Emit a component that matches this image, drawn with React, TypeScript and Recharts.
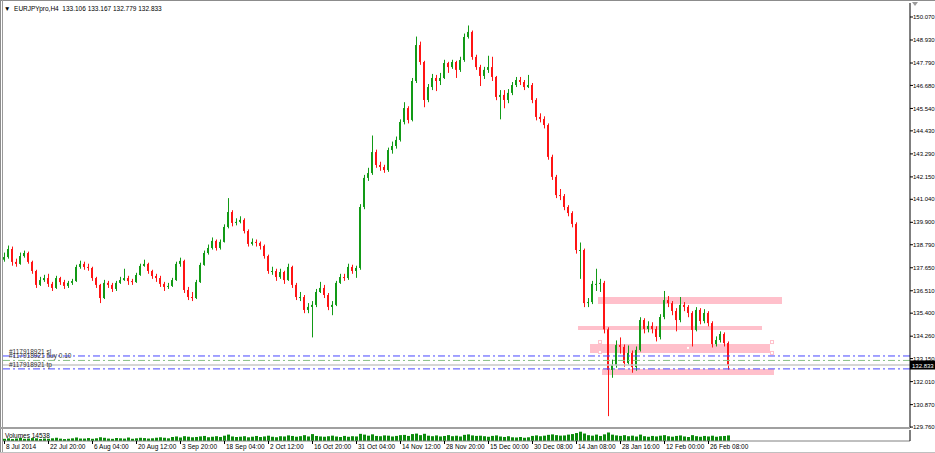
import React from 'react';
import {
  BarChart,
  Bar,
  ComposedChart,
  XAxis,
  YAxis,
  ReferenceLine,
  ReferenceArea,
  ReferenceDot,
} from 'recharts';

const FONT = '"Liberation Sans", Arial, sans-serif';
const BULL = '#129a16';
const BEAR = '#ff1414';
const ZONE_FILL = '#ffc0cb';

// EURJPYpro H4 (one candle per ~6 original bars)
const FIRST_OPEN = 138.05;
const CLOSE = [
  138.18, 138.58, 137.94, 137.84, 138.23, 138.38, 137.94, 137.49, 136.8, 137.04,
  137.14, 136.85, 136.65, 137.14, 136.94, 136.75, 136.9, 136.99, 137.69, 137.84,
  137.69, 137.64, 137.14, 136.8, 136.15, 136.9, 136.8, 136.6, 136.9, 137.04,
  137.14, 136.99, 136.94, 137.29, 137.74, 137.84, 137.49, 137.24, 137.14, 136.85,
  136.7, 136.75, 137.04, 137.84, 137.99, 136.55, 136.2, 136.15, 136.94, 137.79,
  138.38, 138.63, 138.98, 138.63, 138.93, 139.67, 140.41, 139.87, 139.92, 140.02,
  139.47, 138.83, 138.93, 138.88, 138.73, 138.23, 137.49, 137.49, 137.19, 137.44,
  137.04, 137.69, 136.8, 136.2, 136.2, 135.56, 135.71, 135.81, 136.45, 136.65,
  136.3, 135.71, 135.81, 136.9, 137.19, 137.14, 137.69, 137.49, 137.64, 140.66,
  142.1, 142.34, 143.38, 142.74, 142.64, 142.49, 143.48, 143.68, 143.98, 144.87,
  145.56, 144.97, 146.9, 148.68, 147.84, 145.96, 146.6, 147.05, 146.9, 147.05,
  147.79, 147.59, 147.84, 147.45, 147.94, 149.08, 149.33, 148.09, 147.59, 147.15,
  147.45, 147.59, 147.1, 146.11, 146.21, 145.96, 146.31, 146.7, 146.95, 146.85,
  146.6, 146.7, 145.96, 145.12, 145.02, 144.72, 143.14, 142.15, 141.25, 141.2,
  140.66, 140.36, 139.82, 138.53, 138.53, 135.9, 135.95, 136.85, 136.85, 136.9,
  134.6, 132.59, 132.83, 133.82, 133.73, 132.93, 133.43, 132.73, 133.58, 135.06,
  134.62, 134.77, 134.62, 134.22, 135.21, 136.05, 135.9, 135.51, 135.06, 135.81,
  135.71, 135.41, 134.57, 135.56, 135.01, 135.41, 134.91, 133.87, 134.07, 134.37,
  133.92, 132.833,
];
const HIGH = [
  138.4, 138.75, 138.7, 138.1, 138.4, 138.5, 138.45, 138.0, 137.55, 137.2,
  137.3, 137.35, 136.95, 137.25, 137.2, 137.05, 137.0, 137.1, 137.8, 138.0,
  137.95, 137.85, 137.7, 137.2, 136.85, 137.05, 137.0, 136.9, 137.0, 137.2,
  137.6, 137.25, 137.1, 137.4, 137.85, 138.05, 137.9, 137.55, 137.35, 137.25,
  136.95, 136.9, 137.15, 137.95, 138.15, 138.05, 136.7, 136.45, 137.05, 137.9,
  138.5, 138.8, 139.15, 139.05, 139.05, 139.8, 141.1, 140.5, 140.1, 140.2,
  140.1, 139.55, 139.1, 139.05, 138.95, 138.8, 138.3, 137.7, 137.6, 137.6,
  137.5, 137.85, 137.75, 136.9, 136.45, 136.3, 135.9, 136.0, 136.6, 136.95,
  136.8, 136.4, 136.0, 137.0, 137.35, 137.35, 137.85, 137.8, 137.75, 140.8,
  142.25, 142.6, 144.2, 143.5, 142.9, 142.75, 143.6, 143.9, 144.15, 145.0,
  145.85, 145.65, 147.05, 149.1, 148.85, 147.9, 146.75, 147.25, 147.2, 147.3,
  147.95, 147.85, 147.95, 147.9, 148.1, 149.25, 149.65, 149.4, 148.2, 147.7,
  147.6, 148.15, 148.1, 147.15, 146.45, 146.45, 146.5, 146.85, 147.1, 147.1,
  146.95, 147.2, 146.8, 146.05, 145.3, 145.15, 144.8, 143.25, 142.25, 141.55,
  141.3, 140.75, 140.45, 139.9, 138.9, 138.6, 136.15, 137.0, 137.6, 137.1,
  137.0, 134.7, 133.1, 134.05, 134.2, 133.85, 133.8, 133.55, 133.75, 135.2,
  135.15, 135.0, 134.95, 134.75, 135.35, 136.5, 136.25, 136.0, 135.65, 136.2,
  135.95, 135.8, 135.5, 135.7, 135.65, 135.6, 135.5, 135.0, 134.25, 134.5,
  134.45, 134.0,
];
const LOW = [
  137.95, 138.1, 137.75, 137.7, 137.8, 138.15, 137.85, 137.35, 136.65, 136.75,
  136.95, 136.7, 136.5, 136.6, 136.8, 136.6, 136.65, 136.8, 136.95, 137.6,
  137.55, 137.5, 137.0, 136.65, 135.9, 136.1, 136.65, 136.45, 136.5, 136.85,
  137.0, 136.8, 136.8, 136.9, 137.25, 137.7, 137.35, 137.1, 136.95, 136.7,
  136.5, 136.6, 136.7, 137.0, 137.7, 136.4, 136.05, 136.0, 136.1, 136.9,
  137.75, 138.3, 138.55, 138.5, 138.55, 138.9, 139.6, 139.7, 139.75, 139.85,
  139.35, 138.7, 138.75, 138.7, 138.55, 138.1, 137.35, 137.3, 137.0, 137.1,
  136.85, 137.0, 136.65, 136.05, 136.0, 135.4, 135.4, 134.2, 135.7, 136.4,
  136.15, 135.55, 135.3, 135.75, 136.85, 137.0, 137.05, 137.35, 137.15, 137.55,
  140.55, 141.95, 142.25, 142.6, 142.45, 142.35, 142.4, 143.3, 143.55, 143.9,
  144.75, 144.8, 144.9, 146.8, 147.7, 145.6, 145.85, 146.45, 146.4, 146.7,
  147.0, 147.3, 147.5, 147.05, 147.35, 147.85, 149.0, 147.95, 147.45, 146.65,
  147.0, 147.3, 146.9, 145.95, 145.0, 145.55, 145.8, 146.2, 146.6, 146.7,
  146.45, 146.55, 145.8, 144.95, 144.85, 144.55, 143.0, 142.0, 141.1, 141.0,
  140.5, 140.2, 139.65, 138.35, 137.1, 135.7, 135.7, 135.85, 136.5, 136.45,
  134.4, 130.3, 132.2, 132.7, 133.4, 132.75, 132.85, 132.45, 132.55, 133.5,
  134.4, 134.45, 134.4, 134.0, 134.1, 135.1, 135.7, 135.3, 134.5, 134.95,
  135.5, 135.2, 133.75, 134.5, 134.85, 134.9, 134.75, 133.7, 133.75, 133.95,
  133.75, 132.6,
];
const VOLUME = [
  8200, 10100, 7400, 9300, 12100, 8300, 9200, 11000, 10300, 7600,
  9100, 8400, 10200, 12300, 9000, 7300, 8500, 10100, 13200, 9400,
  9200, 11100, 8300, 10400, 14200, 12100, 9300, 8200, 11300, 10200,
  9100, 13100, 8400, 10300, 12200, 11100, 9300, 10200, 12400, 14100,
  12300, 10200, 15100, 17200, 13400, 18300, 16200, 14100, 15300, 17400,
  19200, 14300, 16100, 18200, 15300, 20100, 24300, 17200, 15100, 16300,
  18200, 14100, 16300, 19100, 15200, 17300, 20200, 16100, 14300, 18100,
  17200, 21300, 19100, 16200, 18300, 22100, 17300, 26200, 19100, 17300,
  16200, 18100, 20300, 17100, 15200, 19300, 16100, 18200, 17300, 27100,
  24200, 20100, 25300, 19200, 18100, 21300, 20200, 17100, 19300, 22200,
  23100, 19200, 26300, 28100, 22200, 27300, 20100, 18200, 21100, 17300,
  19100, 22300, 18200, 20100, 17200, 23300, 25100, 21200, 19300, 20100,
  18200, 16100, 19300, 21200, 17100, 15300, 18200, 14100, 13300, 15200,
  12300, 14100, 19200, 21300, 18100, 20200, 23300, 25100, 22200, 20300,
  21100, 24200, 26300, 30100, 35200, 28300, 22100, 20200, 24300, 19100,
  25200, 32300, 24100, 21200, 19300, 22100, 18200, 20300, 17100, 24200,
  18300, 16100, 19200, 17300, 20100, 22200, 18100, 16300, 19200, 21100,
  17300, 15100, 22200, 18300, 16100, 19200, 17300, 20100, 16200, 18300,
  19100, 21200,
];
const VOLUME_MAX = 41681;

const TIME_LABELS = [
  '8 Jul 2014', '22 Jul 20:00', '6 Aug 04:00', '20 Aug 12:00', '3 Sep 20:00',
  '18 Sep 04:00', '2 Oct 12:00', '16 Oct 20:00', '31 Oct 04:00', '14 Nov 12:00',
  '28 Nov 20:00', '15 Dec 00:00', '30 Dec 08:00', '14 Jan 08:00', '28 Jan 16:00',
  '12 Feb 00:00', '26 Feb 08:00',
];
const LABEL_EVERY = 11;

const PRICE_TICKS = [
  150.07, 148.93, 147.79, 146.68, 145.54, 144.43, 143.29, 142.15, 141.04, 139.9,
  138.79, 137.65, 136.51, 135.4, 134.26, 133.15, 132.01, 130.87, 129.76,
];
const PRICE_DOMAIN = [129.713, 150.763];

const SL_PRICE = 133.28;
const BUY_PRICE = 133.06;
const TP_PRICE = 132.64;
const BID = 132.833;
const BAR_OHLC = '133.106 133.167 132.779 132.833';

// rectangles drawn on the chart (candle slot range, price range)
const ZONES = [
  { from: 149, to: 194, top: 136.2, bottom: 135.85 },
  { from: 144, to: 189, top: 134.77, bottom: 134.57 },
  { from: 147, to: 191, top: 133.87, bottom: 133.43 },
  { from: 150, to: 192, top: 132.63, bottom: 132.34 },
];
const HANDLES = [
  { i: 149, p: 133.97 },
  { i: 149, p: 133.48 },
  { i: 192, p: 133.97 },
  { i: 192, p: 133.43 },
  { i: 171, p: 133.68 },
];

const SLOTS = 227; // includes the empty chart shift on the right

const rows = Array.from({ length: SLOTS }, (_, i) => {
  if (i >= CLOSE.length) return { i, range: null, vol: null };
  const open = i === 0 ? FIRST_OPEN : CLOSE[i - 1];
  return {
    i,
    open,
    close: CLOSE[i],
    high: HIGH[i],
    low: LOW[i],
    range: [LOW[i], HIGH[i]],
    vol: VOLUME[i],
  };
});

const Candle = (props: any) => {
  const { x, y, width, height, payload } = props;
  if (!payload || payload.close == null || !height) return <g />;
  const { open, close, high, low } = payload;
  const k = height / (high - low);
  const yo = y + (high - open) * k;
  const yc = y + (high - close) * k;
  const col = Math.round(x + width / 2);
  const color = close >= open ? BULL : BEAR;
  const top = Math.min(yo, yc);
  const bh = Math.max(1, Math.abs(yc - yo));
  return (
    <g>
      <line x1={col + 0.5} x2={col + 0.5} y1={y} y2={y + height} stroke={color} strokeWidth={1} />
      <rect x={col - 1} y={top} width={2} height={bh} fill={color} />
    </g>
  );
};

const orderLabel = (text: string) => (p: any) => (
  <text x={p.viewBox.x + 7} y={p.viewBox.y - 2} fontSize={6.5} fill="#333" fontFamily={FONT}>
    {text}
  </text>
);

const bidLabel = (p: any) => (
  <g>
    <rect x={p.viewBox.x + p.viewBox.width} y={p.viewBox.y - 4.5} width={25} height={9} fill="#000" />
    <text
      x={p.viewBox.x + p.viewBox.width + 2}
      y={p.viewBox.y + 2.5}
      fontSize={6}
      fill="#fff"
      fontFamily={FONT}
    >
      {BID.toFixed(3)}
    </text>
  </g>
);

const TimeTick = (p: any) => {
  const i = p.payload.value;
  const j = i / LABEL_EVERY;
  if (i % LABEL_EVERY !== 0 || j >= TIME_LABELS.length) return <g />;
  return (
    <g>
      <line x1={p.x + 0.5} x2={p.x + 0.5} y1={p.y - 3} y2={p.y} stroke="#000" />
      <text x={p.x + 2} y={p.y + 5} fontSize={6.5} fill="#000" fontFamily={FONT}>
        {TIME_LABELS[j]}
      </text>
    </g>
  );
};

const VolTick = (p: any) => (
  <text x={p.x} y={p.y + 7.5} fontSize={6} fill="#000" fontFamily={FONT}>
    {p.payload.value}
  </text>
);

const line = (style: React.CSSProperties) => (
  <div style={{ position: 'absolute', ...style }} />
);

export default function App() {
  return (
    <div
      style={{
        position: 'relative',
        width: 935,
        height: 453,
        background: '#fff',
        overflow: 'hidden',
        fontFamily: FONT,
      }}
    >
      <style>{'body{margin:0}'}</style>

      <div style={{ position: 'absolute', left: 0, top: 0 }}>
        <ComposedChart
          width={935}
          height={436}
          data={rows}
          margin={{ top: 3, right: 0, bottom: 8, left: 2 }}
          barCategoryGap={0}
          barGap={0}
        >
          <XAxis dataKey="i" type="category" hide />
          <YAxis
            type="number"
            orientation="right"
            width={25}
            domain={PRICE_DOMAIN}
            allowDataOverflow
            ticks={PRICE_TICKS}
            interval={0}
            tickSize={3}
            tickMargin={0}
            stroke="#000"
            tick={{ fontSize: 6, fill: '#000', fontFamily: FONT }}
            tickFormatter={(v: number) => v.toFixed(3)}
          />
          {ZONES.map((z, n) => (
            <ReferenceArea
              key={n}
              x1={z.from}
              x2={z.to}
              y1={z.bottom}
              y2={z.top}
              fill={ZONE_FILL}
              fillOpacity={1}
              stroke="none"
            />
          ))}
          <Bar dataKey="range" shape={Candle} isAnimationActive={false} />
          <ReferenceLine y={BID} stroke="#c8c8c8" strokeWidth={1.5} label={bidLabel} />
          <ReferenceLine
            y={SL_PRICE}
            stroke="#4646ff"
            strokeDasharray="7 3 2 3"
            label={orderLabel('#117918921 sl')}
          />
          <ReferenceLine
            y={BUY_PRICE}
            stroke="#86c086"
            strokeDasharray="7 3 2 3"
            label={orderLabel('#117918921 buy 0.10')}
          />
          <ReferenceLine
            y={TP_PRICE}
            stroke="#4646ff"
            strokeDasharray="7 3 2 3"
            label={orderLabel('#117918921 tp')}
          />
          {HANDLES.map((h, n) => (
            <ReferenceDot
              key={n}
              x={h.i}
              y={h.p}
              r={1.5}
              shape={(p: any) => (
                <rect x={p.cx - 1.5} y={p.cy - 1.5} width={3} height={3} fill="#fff" stroke={ZONE_FILL} />
              )}
            />
          ))}
        </ComposedChart>
      </div>

      <div style={{ position: 'absolute', left: 0, top: 428 }}>
        <BarChart
          width={935}
          height={25}
          data={rows}
          margin={{ top: 2, right: 0, bottom: 0, left: 2 }}
          barCategoryGap={0}
          barGap={0}
        >
          <XAxis
            dataKey="i"
            type="category"
            interval={0}
            height={12}
            tickLine={false}
            tickSize={3}
            tickMargin={0}
            stroke="#808080"
            tick={TimeTick}
          />
          <YAxis
            type="number"
            orientation="right"
            width={25}
            domain={[0, VOLUME_MAX]}
            ticks={[VOLUME_MAX]}
            tickSize={2}
            tickMargin={1}
            stroke="#000"
            tick={VolTick}
          />
          <Bar dataKey="vol" fill="#0a8a0a" barSize={3} isAnimationActive={false} />
        </BarChart>
      </div>

      {line({ left: 0, top: 0, width: 935, height: 1, background: '#8c8c8c' })}
      {line({ left: 0, top: 0, width: 1, height: 453, background: '#8c8c8c' })}
      {line({ left: 2, top: 0, width: 1, height: 453, background: '#9a9a9a' })}
      {line({ left: 0, top: 427, width: 910, height: 2, background: '#a0a0a0' })}
      {line({ left: 0, top: 452, width: 935, height: 1, background: '#c0c0c0' })}

      <div
        style={{
          position: 'absolute',
          left: 4,
          top: 4,
          fontSize: 6.5,
          lineHeight: '9px',
          color: '#000',
          whiteSpace: 'pre',
        }}
      >
        {'▼  EURJPYpro,H4  ' + BAR_OHLC}
      </div>
      <div
        style={{
          position: 'absolute',
          left: 5,
          top: 431,
          fontSize: 6.5,
          lineHeight: '9px',
          color: '#000',
          whiteSpace: 'pre',
        }}
      >
        {'Volumes 14538'}
      </div>
      <div
        style={{
          position: 'absolute',
          left: 912,
          top: 2,
          width: 0,
          height: 0,
          borderLeft: '3px solid transparent',
          borderRight: '3px solid transparent',
          borderTop: '4px solid #9a9a9a',
        }}
      />
    </div>
  );
}
